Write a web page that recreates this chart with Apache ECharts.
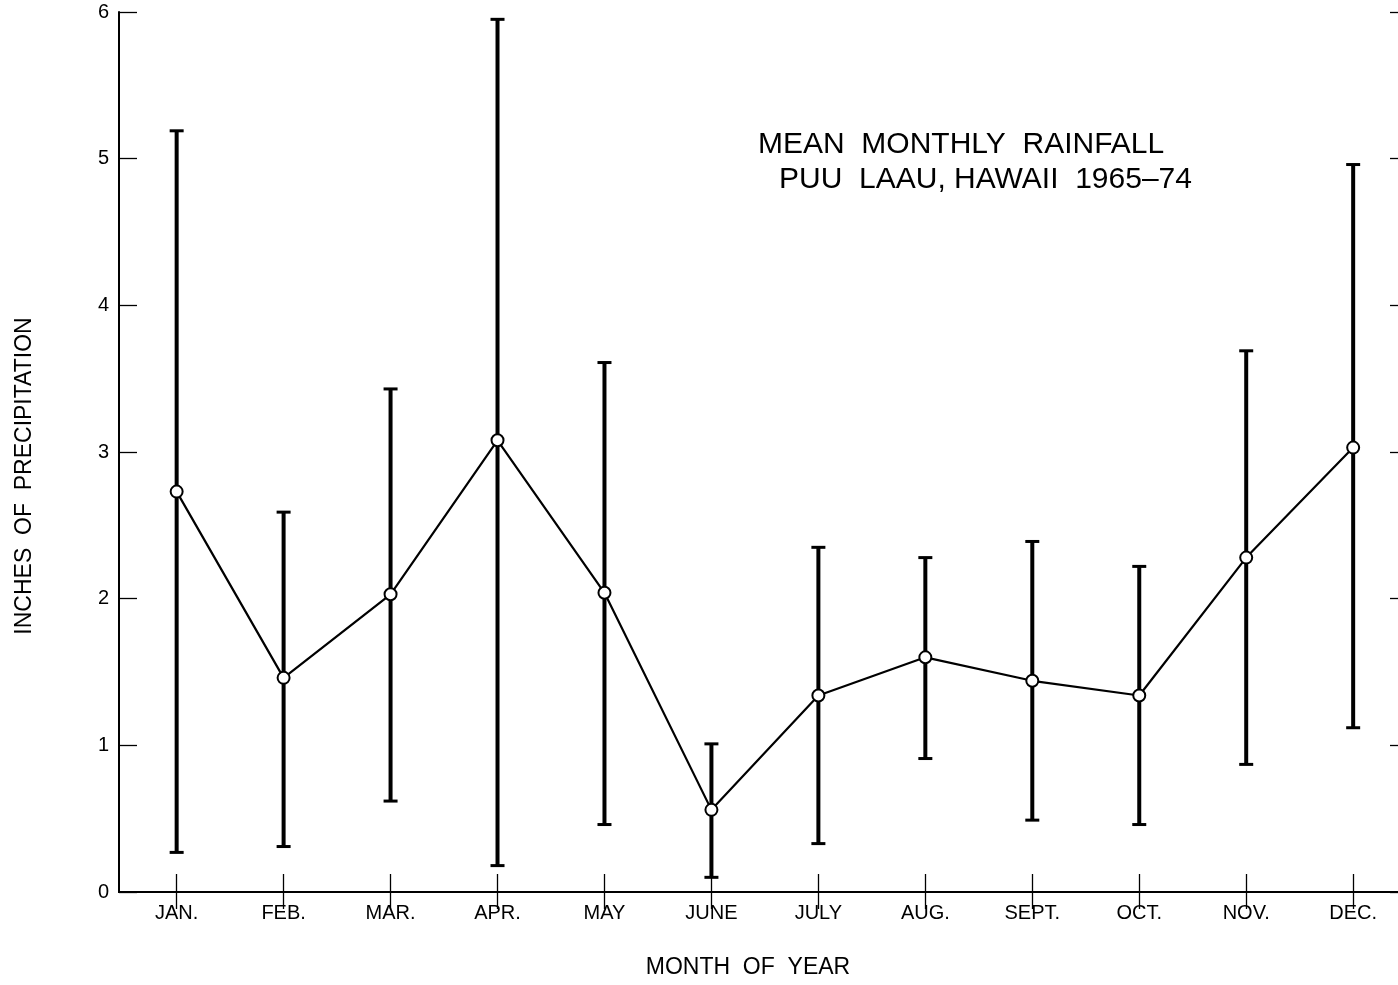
<!DOCTYPE html>
<html>
<head>
<meta charset="utf-8">
<script src="https://cdn.jsdelivr.net/npm/echarts@6/dist/echarts.min.js"></script>
<style>
html,body{margin:0;padding:0;background:#fff;}
#chart{width:1398px;height:985px;}
</style>
</head>
<body>
<div id="chart"></div>
<script>
// ---- data ----
var monthLabels = ['JAN.','FEB.','MAR.','APR.','MAY','JUNE','JULY','AUG.','SEPT.','OCT.','NOV.','DEC.'];
var monthIndex = [1,2,3,4,5,6,7,8,9,10,11,12];
var meanRain = [2.73, 1.46, 2.03, 3.08, 2.04, 0.56, 1.34, 1.60, 1.44, 1.34, 2.28, 3.03];
var lowRain  = [0.27, 0.31, 0.62, 0.18, 0.46, 0.10, 0.33, 0.91, 0.49, 0.46, 0.87, 1.12];
var highRain = [5.19, 2.59, 3.43, 5.95, 3.61, 1.01, 2.35, 2.28, 2.39, 2.22, 3.69, 4.96];
var yTicks = [0,1,2,3,4,5,6];

var titleLine1 = 'MEAN  MONTHLY  RAINFALL';
var titleLine2 = 'PUU  LAAU, HAWAII  1965\u201374';
var xTitle = 'MONTH  OF  YEAR';
var yTitle = 'INCHES  OF  PRECIPITATION';

var FONT = '"Liberation Sans", Arial, sans-serif';

var lineData = monthIndex.map(function(m, i){ return [m, meanRain[i]]; });
var barData = monthIndex.map(function(m, i){ return [m, lowRain[i], highRain[i]]; });

var chart = echarts.init(document.getElementById('chart'), null, {renderer:'canvas'});

var axisLine = {show:true, lineStyle:{color:'#000', width:2}};

var option = {
  animation:false,
  backgroundColor:'#fff',
  grid:{left:119, top:12, width:1287, height:880, containLabel:false, outerBoundsMode:'none'},
  xAxis:[{
    type:'value', position:'bottom', min:0.461, max:12.494,
    axisLine:axisLine,
    splitLine:{show:false},
    axisTick:{show:true, inside:true, length:18, customValues:monthIndex, lineStyle:{color:'#000', width:1.3}},
    axisLabel:{show:true, customValues:monthIndex, margin:11, color:'#000', fontFamily:FONT, fontSize:20,
      formatter:function(v){ return monthLabels[Math.round(v)-1] || ''; }}
  },{
    type:'value', position:'top', min:0.461, max:12.494,
    axisLine:axisLine,
    splitLine:{show:false},
    axisTick:{show:true, inside:true, length:17, customValues:monthIndex, lineStyle:{color:'#000', width:1.3}},
    axisLabel:{show:false}
  }],
  yAxis:[{
    type:'value', position:'left', min:0, max:6, interval:1,
    axisLine:axisLine,
    splitLine:{show:false},
    axisTick:{show:true, inside:true, length:18, lineStyle:{color:'#000', width:1.3}},
    axisLabel:{show:true, margin:10, color:'#000', fontFamily:FONT, fontSize:20,
      formatter:function(v){ return yTicks.indexOf(v) >= 0 ? String(v) : ''; }}
  },{
    type:'value', position:'right', min:0, max:6, interval:1,
    axisLine:axisLine,
    splitLine:{show:false},
    axisTick:{show:true, inside:true, length:16, lineStyle:{color:'#000', width:1.3}},
    axisLabel:{show:false}
  }],
  series:[{
    type:'custom',
    xAxisIndex:0, yAxisIndex:0,
    z:1,
    data:barData,
    renderItem:function(params, api){
      var x = api.value(0);
      var lo = api.coord([x, api.value(1)]);
      var hi = api.coord([x, api.value(2)]);
      var cap = 7;
      return {
        type:'group',
        children:[
          {type:'line', shape:{x1:lo[0], y1:lo[1], x2:hi[0], y2:hi[1]}, style:{stroke:'#000', lineWidth:4}},
          {type:'line', shape:{x1:lo[0]-cap, y1:lo[1], x2:lo[0]+cap, y2:lo[1]}, style:{stroke:'#000', lineWidth:3}},
          {type:'line', shape:{x1:hi[0]-cap, y1:hi[1], x2:hi[0]+cap, y2:hi[1]}, style:{stroke:'#000', lineWidth:3}}
        ]
      };
    }
  },{
    type:'line',
    xAxisIndex:0, yAxisIndex:0,
    z:3,
    data:lineData,
    symbol:'circle',
    symbolSize:12,
    showSymbol:true,
    lineStyle:{color:'#000', width:2.2},
    itemStyle:{color:'#fff', borderColor:'#000', borderWidth:2}
  }],
  graphic:[
    {type:'text', left:758, top:130, z:10, style:{text:titleLine1, fill:'#000', font:'30px ' + FONT}},
    {type:'text', left:779, top:165, z:10, style:{text:titleLine2, fill:'#000', font:'30px ' + FONT}},
    {type:'text', x:748, y:968, z:10, style:{text:xTitle, fill:'#000', font:'23px ' + FONT, align:'center', verticalAlign:'middle'}},
    {type:'text', x:25, y:476, rotation:Math.PI/2, z:10, style:{text:yTitle, fill:'#000', font:'23px ' + FONT, align:'center', verticalAlign:'middle'}}
  ]
};
chart.setOption(option);
</script>
</body>
</html>
